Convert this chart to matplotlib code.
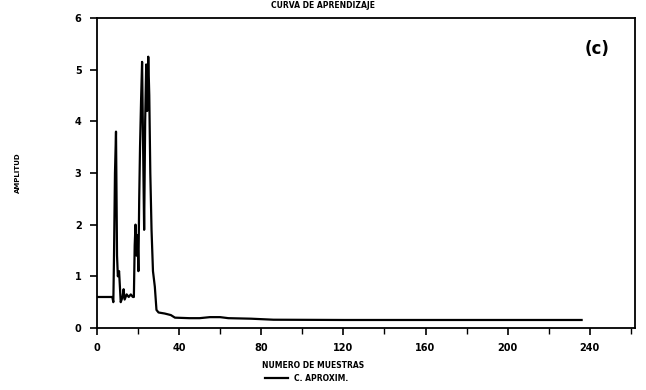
import matplotlib
matplotlib.use("Agg")
import matplotlib.pyplot as plt
from matplotlib.ticker import MultipleLocator

# Breakpoints of the curve (sample number, amplitude)
muestras = [0, 7.5, 8.0, 8.3, 8.8, 9.3, 9.8, 10.2, 10.8, 11.2, 11.6, 12.5, 13.0, 13.5,
            14.5, 15.5, 16.5, 17.5, 18.0, 18.4, 18.8, 19.3, 19.8, 20.2, 20.6, 21.0,
            21.5, 22.0, 22.5, 23.0, 23.5, 24.0, 24.5, 25.0, 25.5, 26.0, 26.6, 27.3,
            28.2, 29.0, 30.0, 33.0, 36.0, 38.0, 45.0, 50.0, 55.0, 60.0, 64.0, 75.0,
            86.0, 120.0, 160.0, 200.0, 236.0]
amplitud = [0.6, 0.6, 0.5, 1.3, 3.0, 3.8, 1.4, 1.0, 1.1, 0.8, 0.5, 0.6, 0.75, 0.55,
            0.65, 0.6, 0.65, 0.6, 0.6, 1.6, 2.0, 1.4, 1.8, 1.1, 2.5, 3.5,
            4.4, 5.15, 3.5, 1.9, 4.0, 5.1, 4.2, 5.25, 4.5, 3.0, 1.9, 1.1,
            0.8, 0.35, 0.3, 0.28, 0.25, 0.2, 0.19, 0.19, 0.21, 0.21, 0.19, 0.18,
            0.16, 0.155, 0.155, 0.155, 0.155]

titulo = "CURVA DE APRENDIZAJE"
etiqueta_x = "NUMERO DE MUESTRAS"
etiqueta_y = "AMPLITUD"
leyenda = "C. APROXIM."
x_ticks = [0, 40, 80, 120, 160, 200, 240]
y_ticks = [0, 1, 2, 3, 4, 5, 6]

fig = plt.figure(figsize=(6.46, 3.90), dpi=100)
ax = fig.add_axes([0.150, 0.159, 0.833, 0.795])

line, = ax.plot(muestras, amplitud, color="black", lw=1.6, label=leyenda)

ax.set_xlim(0, 262)
ax.set_ylim(0, 6)
ax.set_xticks(x_ticks)
ax.set_yticks(y_ticks)
ax.xaxis.set_minor_locator(MultipleLocator(20))
ax.tick_params(axis="both", which="major", direction="out", length=5, width=1.2,
               labelsize=7, pad=6)
ax.tick_params(axis="x", which="minor", direction="out", length=4, width=1.0)
for lab in ax.get_xticklabels() + ax.get_yticklabels():
    lab.set_fontweight("bold")
for s in ax.spines.values():
    s.set_linewidth(1.3)

fig.text(0.5, 0.985, titulo, ha="center", va="center", fontsize=5.5, fontweight="bold")
ax.text(0.93, 0.90, "(c)", transform=ax.transAxes, ha="center", va="center",
        fontsize=12, fontweight="bold")
fig.text(0.485, 0.063, etiqueta_x, ha="center", va="center", fontsize=5.5, fontweight="bold")
fig.text(0.028, 0.558, etiqueta_y, ha="center", va="center", rotation=90,
         fontsize=5, fontweight="bold")
fig.legend(handles=[line], loc="center", bbox_to_anchor=(0.475, 0.030), frameon=False,
           handlelength=3, handletextpad=0.8,
           prop={"weight": "bold", "size": 5.5})

fig.savefig("out.png", dpi=100)
